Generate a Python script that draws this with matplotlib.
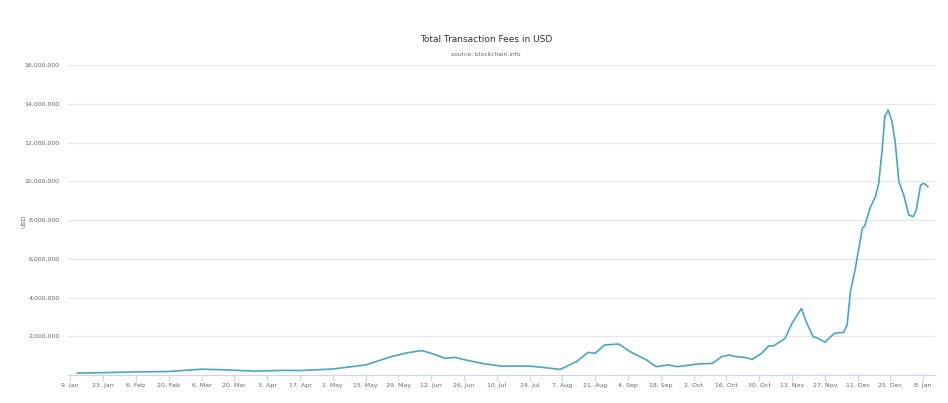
import numpy as np
import pandas as pd
import matplotlib
matplotlib.use("Agg")
import matplotlib.pyplot as plt

# values (USD)
dates = ["2017-01-12", "2017-01-23", "2017-02-06", "2017-02-20", "2017-03-06",
         "2017-03-15", "2017-03-29", "2017-04-10", "2017-04-17", "2017-05-01",
         "2017-05-15", "2017-05-26", "2017-06-02", "2017-06-08", "2017-06-12",
         "2017-06-18", "2017-06-22", "2017-06-28", "2017-07-05", "2017-07-12",
         "2017-07-24", "2017-07-29", "2017-08-06", "2017-08-13", "2017-08-18",
         "2017-08-21", "2017-08-25", "2017-08-31", "2017-09-05", "2017-09-12",
         "2017-09-16", "2017-09-21", "2017-09-25", "2017-10-04", "2017-10-10",
         "2017-10-14", "2017-10-17", "2017-10-20", "2017-10-24", "2017-10-27",
         "2017-10-31", "2017-11-03", "2017-11-05", "2017-11-09", "2017-11-10",
         "2017-11-13", "2017-11-17", "2017-11-19", "2017-11-22", "2017-11-24",
         "2017-11-27", "2017-12-01", "2017-12-05", "2017-12-06 12:00",
         "2017-12-07 22:00", "2017-12-10", "2017-12-13", "2017-12-14",
         "2017-12-16 12:00", "2017-12-18 14:00", "2017-12-20", "2017-12-21 12:00",
         "2017-12-22 14:00", "2017-12-24", "2017-12-25 16:00", "2017-12-27",
         "2017-12-28 14:00", "2017-12-30 16:00", "2018-01-01 20:00",
         "2018-01-03 16:00", "2018-01-05", "2018-01-06 20:00", "2018-01-08 05:00",
         "2018-01-10"]
fees = [0.10e6, 0.12e6, 0.16e6, 0.18e6, 0.30e6,
        0.27e6, 0.20e6, 0.24e6, 0.23e6, 0.31e6,
        0.52e6, 0.95e6, 1.15e6, 1.26e6, 1.12e6,
        0.86e6, 0.91e6, 0.74e6, 0.57e6, 0.46e6,
        0.46e6, 0.40e6, 0.29e6, 0.69e6, 1.17e6,
        1.12e6, 1.55e6, 1.60e6, 1.20e6, 0.77e6,
        0.43e6, 0.52e6, 0.43e6, 0.57e6, 0.60e6,
        0.95e6, 1.03e6, 0.95e6, 0.90e6, 0.81e6,
        1.12e6, 1.50e6, 1.50e6, 1.80e6, 1.90e6,
        2.67e6, 3.44e6, 2.75e6, 1.98e6, 1.90e6,
        1.69e6, 2.15e6, 2.20e6, 2.58e6,
        4.30e6, 5.50e6, 7.57e6, 7.70e6,
        8.69e6, 9.20e6, 9.90e6, 11.7e6,
        13.33e6, 13.68e6, 13.07e6, 12.04e6,
        9.98e6, 9.29e6, 8.26e6,
        8.17e6, 8.50e6, 9.80e6, 9.90e6,
        9.72e6]

tick_labels = ["9. Jan", "23. Jan", "6. Feb", "20. Feb", "6. Mar", "20. Mar",
               "3. Apr", "17. Apr", "1. May", "15. May", "29. May", "12. Jun",
               "26. Jun", "10. Jul", "24. Jul", "7. Aug", "21. Aug", "4. Sep",
               "18. Sep", "2. Oct", "16. Oct", "30. Oct", "13. Nov", "27. Nov",
               "11. Dec", "25. Dec", "8. Jan"]
y_ticks = [0, 2e6, 4e6, 6e6, 8e6, 10e6, 12e6, 14e6, 16e6]

x = pd.to_datetime(dates, format="mixed")
tick_pos = pd.date_range("2017-01-09", periods=len(tick_labels), freq="14D")

fig = plt.figure(figsize=(9.48, 4.03), dpi=100)
ax = fig.add_axes([68 / 948, 1 - 375 / 403, (935 - 68) / 948, (375 - 65) / 403])

ax.plot(x, fees, color="#45a7c6", lw=1.2, solid_joinstyle="round")

ax.set_ylim(0, 16e6)
ax.set_xlim(pd.Timestamp("2017-01-08"), pd.Timestamp("2018-01-13"))
ax.set_yticks(y_ticks)
ax.set_yticklabels(["" if v == 0 else f"{int(v):,}" for v in y_ticks])
ax.set_xticks(tick_pos)
ax.set_xticklabels(tick_labels)

ax.grid(axis="y", color="#e6e6e6", lw=0.8)
ax.set_axisbelow(True)
for s in ["top", "right", "left"]:
    ax.spines[s].set_visible(False)
ax.spines["bottom"].set_color("#ccd6eb")
ax.spines["bottom"].set_linewidth(0.8)
ax.tick_params(axis="y", length=0, labelsize=4.5, labelcolor="#666666", pad=6)
ax.tick_params(axis="x", length=4, color="#ccd6eb", width=0.8,
               labelsize=4.5, labelcolor="#666666", pad=2)

fig.text(24 / 948, 1 - 221 / 403, "USD", rotation=90, ha="center", va="center",
         fontsize=4.5, color="#666666")

fig.text(486 / 948, 1 - 40 / 403, "Total Transaction Fees in USD", ha="center",
         va="center", fontsize=6.5, color="#333333")
fig.text(486 / 948, 1 - 54 / 403, "source: blockchain.info", ha="center",
         va="center", fontsize=4.3, color="#666666")

fig.savefig("out.png", dpi=100)
